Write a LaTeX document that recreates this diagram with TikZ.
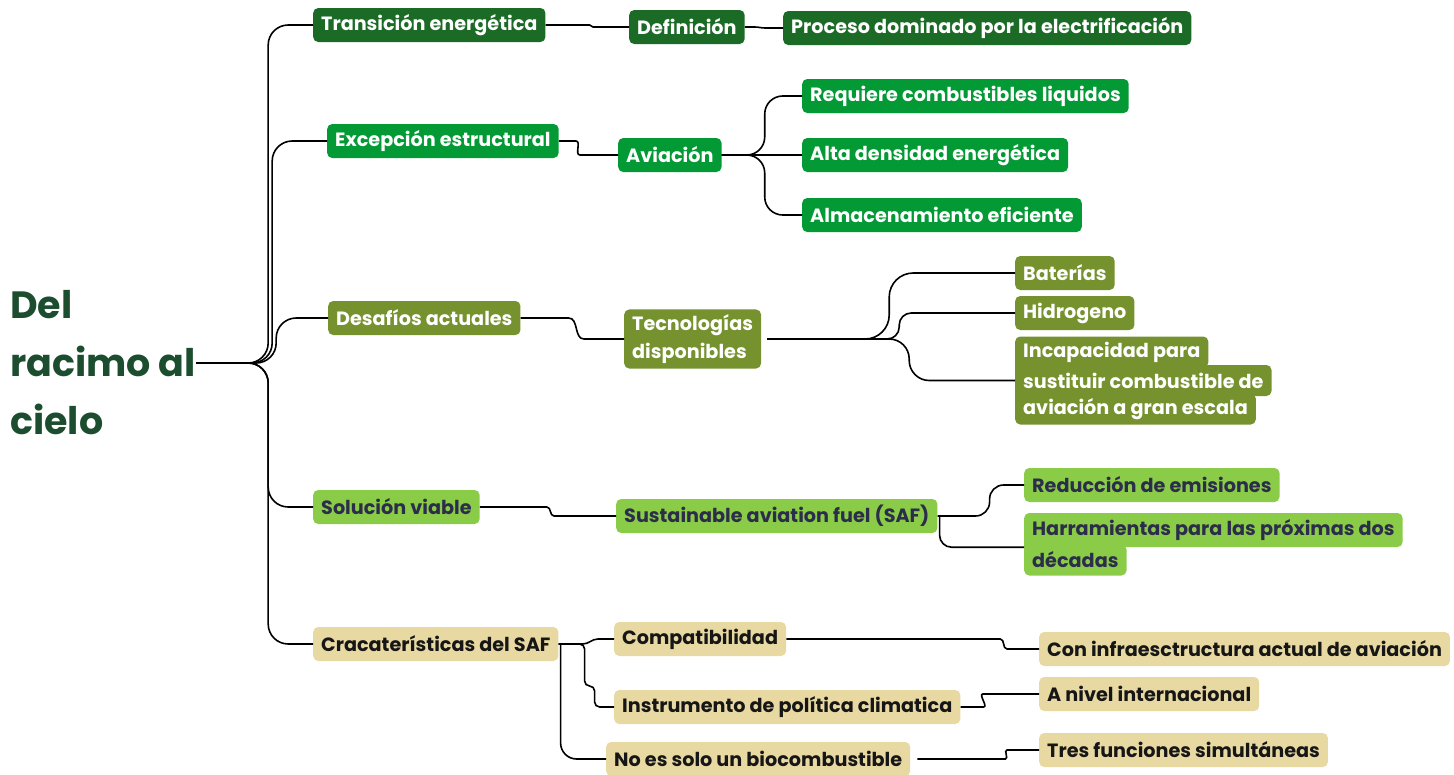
\documentclass[tikz,border=0pt]{standalone}
\usepackage{fontspec}
\setmainfont{Poppins}[Ligatures={NoCommon}]
\usetikzlibrary{positioning}

\definecolor{croot}{RGB}{27,77,46}
\definecolor{ctrans}{RGB}{27,107,39}
\definecolor{cexc}{RGB}{3,153,53}
\definecolor{cdes}{RGB}{118,146,47}
\definecolor{csol}{RGB}{138,204,72}
\definecolor{csoltext}{RGB}{43,45,74}
\definecolor{ccar}{RGB}{232,217,163}
\definecolor{ccartext}{RGB}{22,22,22}

\tikzset{
  topic/.style={anchor=west, rounded corners=5pt, inner xsep=8pt, inner ysep=0pt,
    minimum height=34pt, font=\bfseries\fontsize{19.2}{28}\selectfont},
  trans/.style={topic, fill=ctrans, text=white},
  exc/.style={topic, fill=cexc, text=white},
  des/.style={topic, fill=cdes, text=white},
  sol/.style={topic, fill=csol, text=csoltext},
  car/.style={topic, fill=ccar, text=ccartext},
  textline/.style={minimum height=31pt},
  wire/.style={draw=black, line width=1.6pt},
}

\begin{document}
\begin{tikzpicture}[x=1pt, y=-1pt]
\useasboundingbox (0,0) rectangle (1454,774);

% central title
\node[anchor=west, inner sep=0pt, align=left, text=croot,
  font=\bfseries\fontsize{38}{58}\selectfont] (root) at (10,363) {Del\\racimo al\\cielo};
\coordinate (hub) at ([xshift=18pt]root.east);

% first level
\node[trans] (tr) at (313,25) {Transición energética};
\node[exc] (exc) at (327,141) {Excepción estructural};
\node[des] (des) at (328,318) {Desafíos actuales};
\node[sol] (sol) at (313,507) {Solución viable};
\node[car] (car) at (313,644) {Cracaterísticas del SAF};

% second level
\node[trans] (def) at (629,27) {Definición};
\node[exc] (av) at (618,155) {Aviación};
\node[des, align=left, inner ysep=5pt] (tec) at (624,339) {Tecnologías\\disponibles};
\node[sol] (saf) at (616,516) {Sustainable aviation fuel (SAF)};
\node[car] (comp) at (614,639) {Compatibilidad};
\node[car] (inst) at (614,707) {Instrumento de política climatica};
\node[car] (noes) at (606,759) {No es solo un biocombustible};

% third level
\node[trans] (proc) at (783,28) {Proceso dominado por la electrificación};
\node[exc] (req) at (802,96) {Requiere combustibles liquidos};
\node[exc] (alta) at (802,155) {Alta densidad energética};
\node[exc] (alm) at (802,215) {Almacenamiento eficiente};
\node[des] (bat) at (1015,273) {Baterías};
\node[des] (hid) at (1015,313) {Hidrogeno};
\node[des, textline] (inc1) at (1015,352) {Incapacidad para};
\node[des, textline] (inc2) at (1015,380.5) {sustituir combustible de};
\node[des, textline] (inc3) at (1015,409) {aviación a gran escala};
\node[sol] (red) at (1024,485) {Reducción de emisiones};
\node[sol] (harr1) at (1024,530) {Harramientas para las próximas dos};
\node[sol, textline] (harr2) at (1024,560) {décadas};
\node[car] (con) at (1039,649) {Con infraesctructura actual de aviación};
\node[car] (anivel) at (1039,694) {A nivel internacional};
\node[car] (tres) at (1039,750) {Tres funciones simultáneas};

% close the joints of the ragged boxes
\fill[cdes] ([yshift=6pt]inc1.south west) rectangle ([xshift=8pt,yshift=-6pt]inc2.north west);
\fill[cdes] ([yshift=6pt]inc2.south west) rectangle ([xshift=8pt,yshift=-6pt]inc3.north west);
\fill[csol] ([yshift=6pt]harr1.south west) rectangle ([xshift=8pt,yshift=-6pt]harr2.north west);

% branches from the title
\draw[wire] (root.east) -- (hub);
\draw[wire, rounded corners=20pt] (hub) -- ++(54,0) |- (tr.west);
\draw[wire, rounded corners=20pt] (hub) -- ++(58,0) |- (exc.west);
\draw[wire, rounded corners=20pt] (hub) -- ++(62,0) |- (des.west);
\draw[wire, rounded corners=20pt] (hub) -- ++(54,0) |- (sol.west);
\draw[wire, rounded corners=20pt] (hub) -- ++(54,0) |- (car.west);

% first to second level
\draw[wire] (tr.east) -- ++(44,0) to[out=0,in=180] ([xshift=-36pt]def.west) -- (def.west);
\draw[wire] (exc.east) -- ++(17,0) to[out=0,in=180] ([xshift=-38pt]av.west) -- (av.west);
\draw[wire] (des.east) -- ++(48,0) to[out=0,in=180] ([xshift=-40pt]tec.west) -- (tec.west);
\draw[wire] (sol.east) -- ++(67,0) to[out=0,in=180] ([xshift=-62pt]saf.west) -- (saf.west);
\draw[wire] (car.east) -- ++(24,0) to[out=0,in=180] ([xshift=-16pt]comp.west) -- (comp.west);
\draw[wire, rounded corners=5pt] (car.east) -- ++(26,0) -- ++(0,42) -- ++(10,0) |- (inst.west);
\draw[wire, rounded corners=16pt] ([xshift=2pt]car.east) |- (noes.west);

% second to third level
\draw[wire] (def.east) -- ++(10,0) to[out=0,in=180] ([xshift=-18pt]proc.west) -- (proc.west);
\draw[wire, rounded corners=18pt] (av.east) -- ++(43,0) |- (req.west);
\draw[wire] (av.east) -- (alta.west);
\draw[wire, rounded corners=18pt] (av.east) -- ++(43,0) |- (alm.west);
\draw[wire, rounded corners=24pt] ([xshift=6pt]tec.east) -- ++(122,0) |- (bat.west);
\draw[wire, rounded corners=12pt] ([xshift=6pt]tec.east) -- ++(132,0) |- (hid.west);
\draw[wire, rounded corners=20pt] ([xshift=6pt]tec.east) -- ++(142,0) |- (inc2.west);
\draw[wire, rounded corners=14pt] (saf.east) -- ++(52,0) |- (red.west);
\draw[wire, rounded corners=12pt] ([xshift=2pt]saf.east) |- (harr1.south west);
\draw[wire] (comp.east) -- ++(214,0) to[out=0,in=180] ([xshift=-32pt]con.west) -- (con.west);
\draw[wire] (inst.east) -- ++(23,0) to[out=0,in=180] ([xshift=-56pt]anivel.west) -- (anivel.west);
\draw[wire] ([xshift=7pt]noes.east) -- ++(88,0) to[out=0,in=180] ([xshift=-32pt]tres.west) -- (tres.west);

\end{tikzpicture}
\end{document}
